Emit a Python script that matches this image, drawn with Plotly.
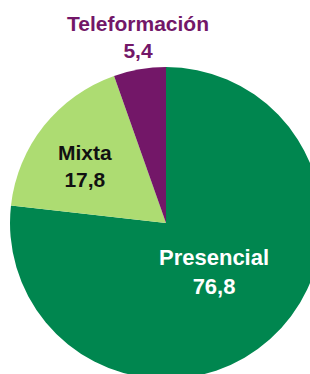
import plotly.graph_objects as go

labels = ["Presencial", "Mixta", "Teleformación"]
values = [76.8, 17.8, 5.4]
colors = ["#00864F", "#ADDC72", "#731768"]
text_colors = ["#FFFFFF", "#111111", "#731768"]
label_sizes = [22, 21, 21]
# label anchor positions in pixels (x from left, y from top)
label_px = [(214, 272), (85, 166), (138, 37)]

W, H = 332, 400
cx, cy, r = 166, 223, 156

fig = go.Figure(go.Pie(
    labels=labels,
    values=values,
    sort=False,
    direction="clockwise",
    rotation=0,
    marker=dict(colors=colors, line=dict(width=0)),
    textinfo="none",
    hoverinfo="label+value",
    showlegend=False,
    domain=dict(x=[(cx - r) / W, (cx + r) / W], y=[1 - (cy + r) / H, 1 - (cy - r) / H]),
))

for lab, val, col, sz, (px, py) in zip(labels, values, text_colors, label_sizes, label_px):
    fig.add_annotation(
        x=px / W, y=1 - py / H, xref="paper", yref="paper",
        xanchor="center", yanchor="middle", showarrow=False,
        text=f"<b>{lab}<br>{str(val).replace('.', ',')}</b>",
        font=dict(family="Liberation Sans, Arial, sans-serif", size=sz, color=col),
    )

fig.update_layout(
    width=W, height=H,
    margin=dict(l=0, r=0, t=0, b=0),
    paper_bgcolor="white", plot_bgcolor="white",
)

fig.write_html(
    "out.html",
    config={"displayModeBar": False},
    post_script="document.body.style.margin='0';document.body.style.overflow='hidden';document.documentElement.style.overflow='hidden';",
)
